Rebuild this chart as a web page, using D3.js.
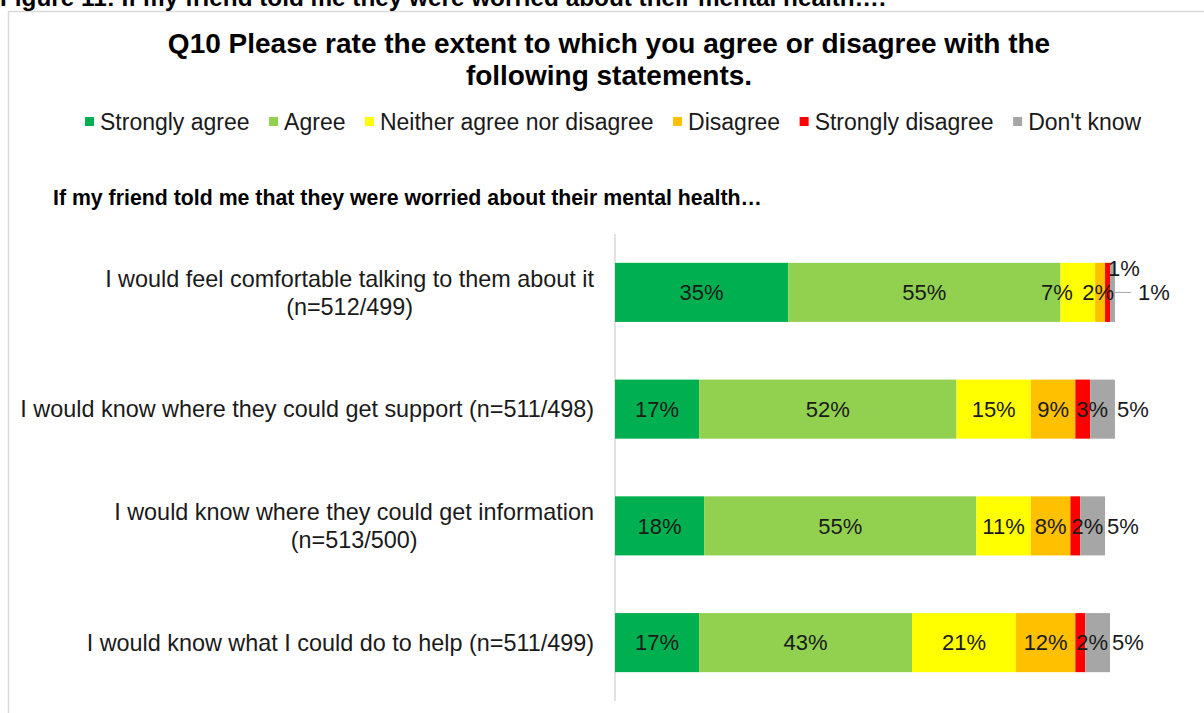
<!DOCTYPE html>
<html>
<head>
<meta charset="utf-8">
<script src="https://cdn.jsdelivr.net/npm/d3@7"></script>
<style>
  html, body { margin: 0; padding: 0; background: #fff; overflow: hidden; }
  svg { display: block; font-family: "Liberation Sans", Arial, sans-serif; }
</style>
</head>
<body>
<svg id="chart" width="1204" height="713"></svg>
<script>
// ---- Data -------------------------------------------------------------
const caption = "Figure 11: If my friend told me they were worried about their mental health….";
const titleLines = [
  "Q10 Please rate the extent to which you agree or disagree with the",
  "following statements."
];
const subtitle = "If my friend told me that they were worried about their mental health…";

const seriesNames = ["Strongly agree", "Agree", "Neither agree nor disagree",
                     "Disagree", "Strongly disagree", "Don't know"];
const seriesColors = ["#00B050", "#92D050", "#FFFF00", "#FFC000", "#FF0000", "#A6A6A6"];

const statements = [
  ["I would feel comfortable talking to them about it", "(n=512/499)"],
  ["I would know where they could get support (n=511/498)"],
  ["I would know where they could get information", "(n=513/500)"],
  ["I would know what I could do to help (n=511/499)"]
];

const stronglyAgree    = [35, 17, 18, 17];
const agree            = [55, 52, 55, 43];
const neither          = [7, 15, 11, 21];
const disagree         = [2, 9, 8, 12];
const stronglyDisagree = [1, 3, 2, 2];
const dontKnow         = [1, 5, 5, 5];

// ---- Build table for d3.stack -----------------------------------------
const seriesValues = [stronglyAgree, agree, neither, disagree, stronglyDisagree, dontKnow];
const rows = statements.map((lines, i) => {
  const r = { idx: i, lines };
  seriesNames.forEach((name, s) => { r[name] = seriesValues[s][i]; });
  return r;
});
const stacked = d3.stack().keys(seriesNames)(rows);

// ---- Layout -----------------------------------------------------------
const svg = d3.select("#chart");
const FONT_TEXT = "#1a1a1a";

const x = d3.scaleLinear().domain([0, 100]).range([615, 1110]);
const y = d3.scaleBand().domain(d3.range(statements.length))
  .range([234, 701]).paddingInner(0.494).paddingOuter(0.247);

// chart frame (extends past the right/bottom edges)
svg.append("rect")
  .attr("x", 8.5).attr("y", 11.5).attr("width", 1400).attr("height", 900)
  .attr("fill", "none").attr("stroke", "#d9d9d9").attr("stroke-width", 1.5);

// figure caption above the frame
svg.append("text")
  .attr("x", 0).attr("y", 6)
  .attr("font-size", 24.3).attr("font-weight", "bold").attr("fill", "#000")
  .text(caption);

// title
svg.append("g").selectAll("text").data(titleLines).join("text")
  .attr("x", 609).attr("y", (d, i) => 53 + i * 32)
  .attr("text-anchor", "middle")
  .attr("font-size", 28).attr("font-weight", "bold").attr("fill", "#000")
  .text(d => d);

// legend
const legend = svg.append("g").attr("class", "legend");
let lx = 85;
seriesNames.forEach((name, s) => {
  legend.append("rect")
    .attr("x", lx).attr("y", 117).attr("width", 9).attr("height", 9)
    .attr("fill", seriesColors[s]);
  const t = legend.append("text")
    .attr("x", lx + 15).attr("y", 130)
    .attr("font-size", 23).attr("fill", FONT_TEXT)
    .text(name);
  lx += 15 + t.node().getComputedTextLength() + 19.5;
});

// sub heading
svg.append("text")
  .attr("x", 53).attr("y", 205)
  .attr("font-size", 21.3).attr("font-weight", "bold").attr("fill", "#000")
  .text(subtitle);

// category axis line
svg.append("line")
  .attr("x1", x(0)).attr("x2", x(0))
  .attr("y1", y.range()[0]).attr("y2", y.range()[1])
  .attr("stroke", "#d9d9d9").attr("stroke-width", 1.5);

// category labels (multi-line labels are centred within a right-aligned block)
const catG = svg.append("g").attr("class", "categories");
rows.forEach(r => {
  const yc = y(r.idx) + y.bandwidth() / 2;
  const g = catG.append("g");
  const texts = r.lines.map((line, i) =>
    g.append("text")
      .attr("y", yc + (i - (r.lines.length - 1) / 2) * 28)
      .attr("dy", "0.35em")
      .attr("font-size", 23.4).attr("fill", FONT_TEXT)
      .attr("text-anchor", "middle")
      .text(line));
  const w = d3.max(texts, t => t.node().getComputedTextLength());
  texts.forEach(t => t.attr("x", x(0) - 21 - w / 2));
});

// bars
const barG = svg.append("g").attr("class", "bars");
stacked.forEach((layer, s) => {
  barG.append("g").attr("fill", seriesColors[s])
    .selectAll("rect").data(layer).join("rect")
    .attr("x", d => x(d[0]))
    .attr("y", d => y(d.data.idx))
    .attr("width", d => x(d[1]) - x(d[0]))
    .attr("height", y.bandwidth());
});

// data label placement: narrow tail segments are labelled outside the bar
function placeLabel(row, s, x0, x1, yc) {
  const cx = (x0 + x1) / 2;
  if (s === 5) {
    if (row === 0) return { x: x1 + 23, y: yc, anchor: "start", leader: [x1, x1 + 16] };
    return { x: x1 + 2, y: yc, anchor: "start" };
  }
  if (s === 4) {
    if (row === 0) return { x: x0 + 3, y: yc - 24, anchor: "start" };
    return { x: x0 + 1, y: yc, anchor: "start" };
  }
  if (row === 0 && s === 2) return { x: cx - 21, y: yc, anchor: "middle" };
  if (row === 0 && s === 3) return { x: cx - 2, y: yc, anchor: "middle" };
  return { x: cx, y: yc, anchor: "middle" };
}

const labG = svg.append("g").attr("class", "labels");
stacked.forEach((layer, s) => {
  layer.forEach(d => {
    const row = d.data.idx;
    const yc = y(row) + y.bandwidth() / 2;
    const p = placeLabel(row, s, x(d[0]), x(d[1]), yc);
    if (p.leader) {
      labG.append("line")
        .attr("x1", p.leader[0]).attr("x2", p.leader[1])
        .attr("y1", yc).attr("y2", yc)
        .attr("stroke", "#a6a6a6").attr("stroke-width", 1);
    }
    labG.append("text")
      .attr("x", p.x).attr("y", p.y).attr("dy", "0.35em")
      .attr("text-anchor", p.anchor)
      .attr("font-size", 22).attr("fill", FONT_TEXT)
      .text(d3.format("d")(d[1] - d[0]) + "%");
  });
});
</script>
</body>
</html>
